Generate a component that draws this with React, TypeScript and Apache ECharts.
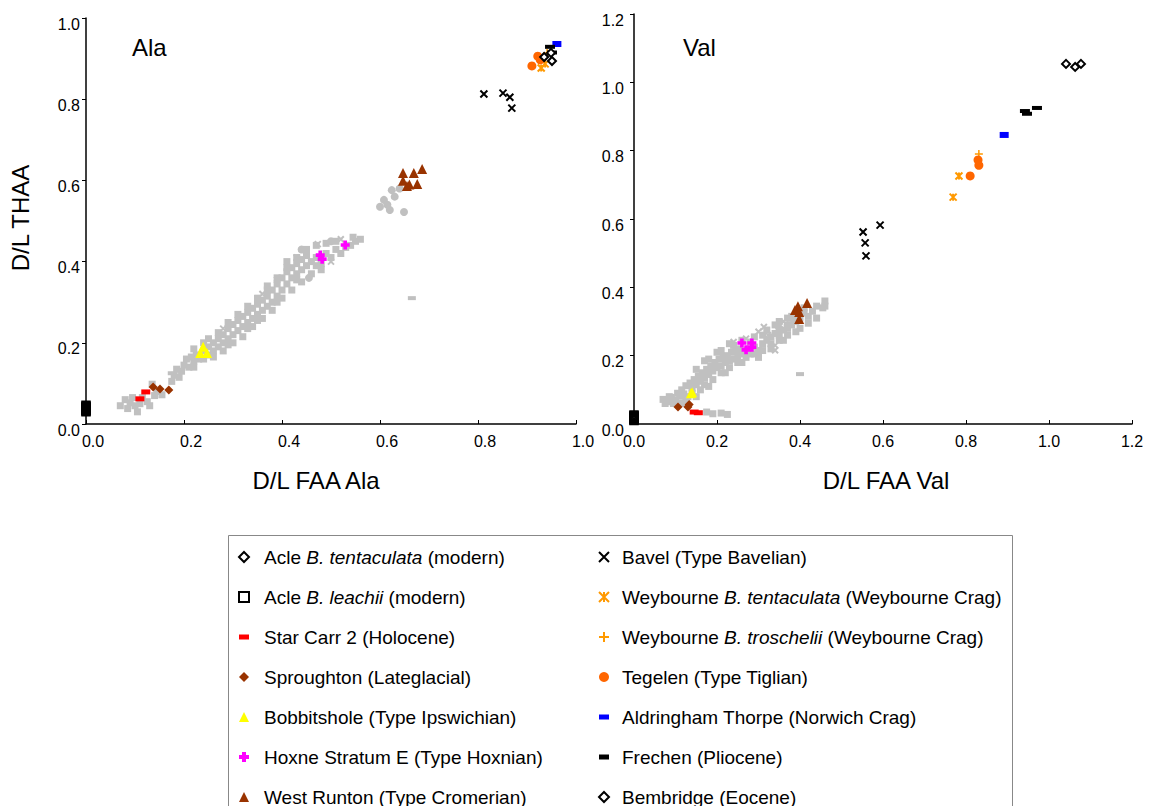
import React, { useEffect, useRef } from 'react';
import * as echarts from 'echarts';

const FONT = '"Liberation Sans", Arial, Helvetica, sans-serif';

// ---------- axis ranges ----------
const alaAxisMax = 1.0;
const valAxisMax = 1.2;
const tickStep = 0.2;

// ---------- series names ----------
const legendLeft = [
  'Acle B. tentaculata (modern)',
  'Acle B. leachii (modern)',
  'Star Carr 2 (Holocene)',
  'Sproughton (Lateglacial)',
  'Bobbitshole (Type Ipswichian)',
  'Hoxne Stratum E (Type Hoxnian)',
  'West Runton (Type Cromerian)',
];
const legendRight = [
  'Bavel (Type Bavelian)',
  'Weybourne B. tentaculata (Weybourne Crag)',
  'Weybourne B. troschelii (Weybourne Crag)',
  'Tegelen (Type Tiglian)',
  'Aldringham Thorpe (Norwich Crag)',
  'Frechen (Pliocene)',
  'Bembridge (Eocene)',
];

// ---------- Ala panel data [FAA, THAA] ----------
const acleTentAla = [[0, 0.046], [0, 0.04], [0, 0.034]];
const acleLeachAla = [[0, 0.03], [0, 0.032], [0, 0.034], [0, 0.036], [0, 0.038], [0, 0.04], [0, 0.042], [0, 0.044], [0, 0.046]];
const starCarrAla = [[0.11, 0.062], [0.122, 0.079]];
const sproughtonAla = [[0.137, 0.091], [0.151, 0.086], [0.169, 0.084]];
const bobbitsholeAla = [[0.239, 0.19], [0.233, 0.175], [0.247, 0.175]];
const hoxneAla = [[0.478, 0.416], [0.482, 0.406], [0.529, 0.441]];
const westRuntonAla = [[0.647, 0.618], [0.669, 0.618], [0.686, 0.628], [0.647, 0.599], [0.655, 0.586], [0.676, 0.591], [0.66, 0.59]];
const bavelAla = [[0.812, 0.813], [0.851, 0.815], [0.865, 0.805], [0.869, 0.778]];
const weyTentAla = [[0.929, 0.877], [0.937, 0.887]];
const weyTroschAla = [[0.941, 0.914]];
const tegelenAla = [[0.922, 0.906], [0.927, 0.897], [0.91, 0.882]];
const aldringhamAla = [[0.961, 0.936]];
const frechenAla = [[0.947, 0.929], [0.951, 0.915]];
const bembridgeAla = [[0.935, 0.904], [0.951, 0.894], [0.949, 0.914]];

const grayAlaSquares = [
  [0.07, 0.045], [0.08, 0.06], [0.085, 0.038], [0.09, 0.052], [0.095, 0.065], [0.1, 0.045], [0.105, 0.03], [0.11, 0.05],
  [0.115, 0.065], [0.125, 0.055], [0.13, 0.045], [0.14, 0.07], [0.135, 0.098], [0.145, 0.08], [0.155, 0.072],
  [0.175, 0.105], [0.18, 0.12], [0.185, 0.135], [0.19, 0.115], [0.195, 0.13], [0.2, 0.145], [0.205, 0.16], [0.21, 0.14],
  [0.215, 0.165], [0.22, 0.155], [0.225, 0.17], [0.23, 0.16], [0.24, 0.18], [0.25, 0.17], [0.25, 0.19], [0.26, 0.18],
  [0.26, 0.2], [0.27, 0.19], [0.27, 0.21], [0.28, 0.2], [0.28, 0.22], [0.29, 0.21], [0.29, 0.235], [0.3, 0.22],
  [0.3, 0.245], [0.31, 0.23], [0.31, 0.255], [0.32, 0.24], [0.32, 0.265], [0.33, 0.25], [0.33, 0.275], [0.34, 0.26],
  [0.34, 0.285], [0.35, 0.27], [0.35, 0.295], [0.36, 0.28], [0.36, 0.305], [0.37, 0.29], [0.37, 0.315], [0.38, 0.3],
  [0.38, 0.33], [0.39, 0.315], [0.39, 0.345], [0.4, 0.33], [0.4, 0.36], [0.41, 0.345], [0.41, 0.375], [0.42, 0.36],
  [0.42, 0.385], [0.43, 0.37], [0.43, 0.395], [0.44, 0.38], [0.44, 0.405], [0.45, 0.39], [0.45, 0.415], [0.46, 0.4],
  [0.47, 0.41], [0.48, 0.395], [0.49, 0.42], [0.5, 0.41], [0.51, 0.43], [0.52, 0.42], [0.53, 0.435], [0.54, 0.44],
  [0.55, 0.45], [0.35, 0.255], [0.39, 0.3], [0.43, 0.355], [0.47, 0.39], [0.33, 0.235], [0.29, 0.195], [0.41, 0.4],
  [0.37, 0.34], [0.24, 0.2], [0.22, 0.185],
  [0.22, 0.14], [0.24, 0.16], [0.26, 0.165], [0.28, 0.18], [0.3, 0.2], [0.32, 0.215], [0.34, 0.24], [0.36, 0.26],
  [0.38, 0.28], [0.4, 0.31], [0.42, 0.33], [0.44, 0.35], [0.46, 0.37], [0.48, 0.38],
  [0.25, 0.21], [0.27, 0.225], [0.29, 0.25], [0.31, 0.27], [0.33, 0.29], [0.35, 0.31], [0.37, 0.33], [0.39, 0.36],
  [0.41, 0.385], [0.43, 0.41], [0.45, 0.43], [0.47, 0.44], [0.49, 0.445], [0.51, 0.45], [0.545, 0.46], [0.56, 0.455],
];
const grayAlaCircles = [
  [0.608, 0.552], [0.62, 0.527], [0.624, 0.576], [0.649, 0.522], [0.615, 0.54], [0.63, 0.56], [0.64, 0.58],
  [0.6, 0.535], [0.44, 0.43], [0.455, 0.36], [0.5, 0.45],
];
const grayAlaCrosses = [[0.473, 0.443], [0.43, 0.41], [0.52, 0.455], [0.39, 0.355], [0.36, 0.32], [0.28, 0.235], [0.5, 0.4]];
const grayAlaDashes = [[0.665, 0.31], [0.175, 0.125]];

// ---------- Val panel data [FAA, THAA] ----------
const acleTentVal = [[0, 0.024], [0, 0.018], [0, 0.013]];
const acleLeachVal = [[0, 0.01], [0, 0.012], [0, 0.014], [0, 0.016], [0, 0.018], [0, 0.02], [0, 0.022], [0, 0.024], [0, 0.026]];
const starCarrVal = [[0.145, 0.035], [0.155, 0.033]];
const sproughtonVal = [[0.106, 0.05], [0.13, 0.05], [0.133, 0.057]];
const bobbitsholeVal = [[0.14, 0.093], [0.137, 0.09]];
const hoxneVal = [[0.26, 0.237], [0.284, 0.237], [0.27, 0.217], [0.284, 0.225]];
const westRuntonVal = [[0.395, 0.345], [0.417, 0.354], [0.388, 0.334], [0.398, 0.328], [0.398, 0.307]];
const bavelVal = [[0.552, 0.562], [0.557, 0.53], [0.559, 0.492], [0.593, 0.582]];
const weyTentVal = [[0.769, 0.664], [0.783, 0.726]];
const weyTroschVal = [[0.831, 0.79]];
const tegelenVal = [[0.81, 0.726], [0.829, 0.773], [0.831, 0.757]];
const aldringhamVal = [[0.892, 0.846]];
const frechenVal = [[0.942, 0.916], [0.947, 0.908], [0.971, 0.925]];
const bembridgeVal = [[1.041, 1.054], [1.063, 1.045], [1.077, 1.054]];

const grayValSquares = [
  [0.07, 0.072], [0.08, 0.065], [0.09, 0.078], [0.1, 0.07], [0.11, 0.082], [0.115, 0.1], [0.12, 0.088], [0.125, 0.112],
  [0.13, 0.08], [0.135, 0.12], [0.14, 0.105], [0.145, 0.13], [0.15, 0.115], [0.155, 0.14], [0.16, 0.125], [0.165, 0.15],
  [0.17, 0.135], [0.175, 0.16], [0.18, 0.145], [0.185, 0.17], [0.19, 0.155], [0.195, 0.18], [0.2, 0.165], [0.205, 0.19],
  [0.21, 0.17], [0.215, 0.195], [0.22, 0.18], [0.225, 0.2], [0.23, 0.185], [0.235, 0.21], [0.24, 0.19], [0.245, 0.215],
  [0.25, 0.2], [0.255, 0.22], [0.26, 0.205], [0.27, 0.215], [0.28, 0.205], [0.29, 0.225], [0.3, 0.215], [0.31, 0.235],
  [0.32, 0.245], [0.33, 0.255], [0.34, 0.265], [0.35, 0.26], [0.36, 0.275], [0.37, 0.28], [0.38, 0.29], [0.39, 0.3],
  [0.4, 0.31], [0.41, 0.325], [0.42, 0.315], [0.455, 0.34], [0.46, 0.36], [0.15, 0.08], [0.12, 0.06], [0.175, 0.035],
  [0.19, 0.03], [0.21, 0.032], [0.225, 0.028], [0.18, 0.11], [0.22, 0.15], [0.26, 0.18], [0.3, 0.195], [0.33, 0.22],
  [0.36, 0.245], [0.39, 0.27], [0.17, 0.185], [0.2, 0.21], [0.23, 0.235], [0.28, 0.24], [0.31, 0.26], [0.34, 0.29],
  [0.38, 0.315], [0.43, 0.33],
  [0.075, 0.06], [0.085, 0.08], [0.095, 0.06], [0.105, 0.09], [0.11, 0.062], [0.125, 0.07], [0.14, 0.09], [0.16, 0.1],
  [0.17, 0.115], [0.19, 0.13], [0.21, 0.15], [0.23, 0.165], [0.25, 0.18], [0.27, 0.195], [0.29, 0.205], [0.31, 0.215],
  [0.33, 0.235], [0.35, 0.245], [0.37, 0.26], [0.4, 0.28], [0.42, 0.295], [0.44, 0.31],
  [0.15, 0.16], [0.18, 0.19], [0.21, 0.215], [0.24, 0.23], [0.26, 0.245], [0.29, 0.255], [0.32, 0.275], [0.35, 0.3],
  [0.37, 0.31], [0.41, 0.34], [0.44, 0.345], [0.46, 0.345],
];
const grayValCircles = [[0.37, 0.29], [0.385, 0.305], [0.35, 0.28]];
const grayValCrosses = [[0.313, 0.284], [0.323, 0.26], [0.34, 0.23], [0.34, 0.216], [0.27, 0.25], [0.36, 0.3], [0.24, 0.24], [0.3, 0.27]];
const grayValDashes = [[0.4, 0.146]];

// ---------- symbols ----------
const SYM_X = 'path://M0,0L10,10M10,0L0,10';
const SYM_AST = 'path://M0,0L10,10M10,0L0,10M5,0L5,10';
const SYM_PLUS = 'path://M5,0L5,10M0,5L10,5';
const SYM_FATPLUS = 'path://M3,0H7V3H10V7H7V10H3V7H0V3H3Z';
const SYM_DASH = 'path://M0,0H10V5H0Z';

const GRAY = '#c0c0c0';
const HOLLOW = 'rgba(255,255,255,0)';

const styled = [
  { name: legendLeft[0], ala: acleTentAla, val: acleTentVal, symbol: 'diamond', size: 7, itemStyle: { color: HOLLOW, borderColor: '#000', borderWidth: 1.5 } },
  { name: legendLeft[1], ala: acleLeachAla, val: acleLeachVal, symbol: 'rect', size: 8, itemStyle: { color: HOLLOW, borderColor: '#000', borderWidth: 1.5 } },
  { name: legendLeft[2], ala: starCarrAla, val: starCarrVal, symbol: SYM_DASH, size: [9, 5], itemStyle: { color: '#ff0000' } },
  { name: legendLeft[3], ala: sproughtonAla, val: sproughtonVal, symbol: 'diamond', size: 9, itemStyle: { color: '#993300' } },
  { name: legendLeft[4], ala: bobbitsholeAla, val: bobbitsholeVal, symbol: 'triangle', size: 10, itemStyle: { color: '#ffff00' } },
  { name: legendLeft[5], ala: hoxneAla, val: hoxneVal, symbol: SYM_FATPLUS, size: 9, itemStyle: { color: '#ff00ff' } },
  { name: legendLeft[6], ala: westRuntonAla, val: westRuntonVal, symbol: 'triangle', size: 10, itemStyle: { color: '#993300' } },
  { name: legendRight[0], ala: bavelAla, val: bavelVal, symbol: SYM_X, size: 7, itemStyle: { color: '#000', borderColor: '#000', borderWidth: 2 } },
  { name: legendRight[1], ala: weyTentAla, val: weyTentVal, symbol: SYM_AST, size: 7, itemStyle: { color: '#ff9900', borderColor: '#ff9900', borderWidth: 2 } },
  { name: legendRight[2], ala: weyTroschAla, val: weyTroschVal, symbol: SYM_PLUS, size: 8, itemStyle: { color: '#ff9900', borderColor: '#ff9900', borderWidth: 1.5 } },
  { name: legendRight[3], ala: tegelenAla, val: tegelenVal, symbol: 'circle', size: 9, itemStyle: { color: '#ff6600' } },
  { name: legendRight[4], ala: aldringhamAla, val: aldringhamVal, symbol: SYM_DASH, size: [9, 6], itemStyle: { color: '#0000ff' } },
  { name: legendRight[5], ala: frechenAla, val: frechenVal, symbol: SYM_DASH, size: [10, 4], itemStyle: { color: '#000' } },
  { name: legendRight[6], ala: bembridgeAla, val: bembridgeVal, symbol: 'diamond', size: 8, itemStyle: { color: '#fff', borderColor: '#000', borderWidth: 2 } },
];

const grayGroups = [
  { ala: grayAlaSquares, val: grayValSquares, symbol: 'rect', size: 7, itemStyle: { color: GRAY } },
  { ala: grayAlaCircles, val: grayValCircles, symbol: 'circle', size: 8, itemStyle: { color: GRAY } },
  { ala: grayAlaCrosses, val: grayValCrosses, symbol: SYM_X, size: 6, itemStyle: { color: GRAY, borderColor: GRAY, borderWidth: 2 } },
  { ala: grayAlaDashes, val: grayValDashes, symbol: SYM_DASH, size: [8, 4], itemStyle: { color: GRAY } },
];

function buildSeries() {
  const out: any[] = [];
  grayGroups.forEach((g, gi) => {
    [g.ala, g.val].forEach((d, idx) => {
      out.push({
        type: 'scatter', name: 'other' + gi, xAxisIndex: idx, yAxisIndex: idx, data: d,
        symbol: g.symbol, symbolSize: g.size, itemStyle: { ...g.itemStyle, opacity: 1 }, silent: true, z: 1,
      });
    });
  });
  styled.forEach((s) => {
    [s.ala, s.val].forEach((d, idx) => {
      out.push({
        type: 'scatter', name: s.name, xAxisIndex: idx, yAxisIndex: idx, data: d,
        symbol: s.symbol, symbolSize: s.size, itemStyle: { ...s.itemStyle, opacity: 1 }, z: 3,
      });
    });
  });
  return out;
}

const labelFmt = (v: number) => v.toFixed(1);

function xAxisCfg(gridIndex: number, max: number, extraPad: number) {
  return {
    type: 'value', gridIndex, min: 0, max, interval: tickStep,
    axisLine: { show: true, onZero: false, lineStyle: { color: '#000', width: 1.5 } },
    axisTick: { show: true, inside: true, length: 4, lineStyle: { color: '#000', width: 1 } },
    splitLine: { show: false },
    axisLabel: { formatter: labelFmt, color: '#000', fontSize: 16, fontFamily: FONT, margin: 9, padding: [0, 0, 0, extraPad] },
  };
}
function yAxisCfg(gridIndex: number, max: number, margin: number) {
  return {
    type: 'value', gridIndex, min: 0, max, interval: tickStep,
    axisLine: { show: true, onZero: false, lineStyle: { color: '#000', width: 1.5 } },
    axisTick: { show: true, inside: false, length: 4, lineStyle: { color: '#000', width: 1 } },
    splitLine: { show: false },
    axisLabel: { formatter: labelFmt, color: '#000', fontSize: 16, fontFamily: FONT, margin, verticalAlign: 'top', lineHeight: 12 },
  };
}

const legendFormatter = (name: string) => name.replace(/(B\. [a-z]+)/, '{i|$1}');
const legendText = (padLeft: number) => ({
  fontSize: 19, fontFamily: FONT, color: '#000', lineHeight: 22, padding: [0, 0, 0, padLeft],
  rich: { i: { fontStyle: 'italic', fontSize: 19, fontFamily: FONT, color: '#000', lineHeight: 22 } },
});

export default function App() {
  const ref = useRef<HTMLDivElement>(null);
  useEffect(() => {
    if (!ref.current) return;
    const chart = echarts.init(ref.current, undefined, { renderer: 'svg' });
    const option: any = {
      animation: false,
      backgroundColor: '#fff',
      textStyle: { fontFamily: FONT },
      grid: [
        { left: 86, top: 18, width: 490, height: 406 },
        { left: 634, top: 14, width: 498, height: 410 },
      ],
      xAxis: [xAxisCfg(0, alaAxisMax, 14), xAxisCfg(1, valAxisMax, 0)],
      yAxis: [yAxisCfg(0, alaAxisMax, 6), yAxisCfg(1, valAxisMax, 10)],
      legend: [
        {
          data: legendLeft, orient: 'vertical', left: 233, top: 541, height: 400, itemWidth: 10, itemHeight: 10,
          itemGap: 18, selectedMode: false, formatter: legendFormatter, textStyle: legendText(10),
        },
        {
          data: legendRight, orient: 'vertical', left: 593, top: 541, height: 400, itemWidth: 10, itemHeight: 10,
          itemGap: 18, selectedMode: false, formatter: legendFormatter, textStyle: legendText(8),
        },
      ],
      graphic: [
        { type: 'rect', shape: { x: 228.5, y: 535.5, width: 784, height: 300 }, style: { fill: 'none', stroke: '#888', lineWidth: 1 }, z: -1 },
        { type: 'text', x: 132, y: 47, style: { text: 'Ala', font: `24px ${FONT}`, fill: '#000', verticalAlign: 'middle' } },
        { type: 'text', x: 683, y: 47, style: { text: 'Val', font: `24px ${FONT}`, fill: '#000', verticalAlign: 'middle' } },
        { type: 'text', x: 316, y: 480, style: { text: 'D/L FAA Ala', font: `24px ${FONT}`, fill: '#000', align: 'center', verticalAlign: 'middle' } },
        { type: 'text', x: 886, y: 480, style: { text: 'D/L FAA Val', font: `24px ${FONT}`, fill: '#000', align: 'center', verticalAlign: 'middle' } },
        { type: 'text', x: 20, y: 218, rotation: Math.PI / 2, style: { text: 'D/L THAA', font: `24px ${FONT}`, fill: '#000', align: 'center', verticalAlign: 'middle' } },
      ],
      series: buildSeries(),
    };
    chart.setOption(option);
    return () => chart.dispose();
  }, []);
  return <div ref={ref} style={{ position: 'fixed', left: 0, top: 0, width: 1150, height: 806 }} />;
}
